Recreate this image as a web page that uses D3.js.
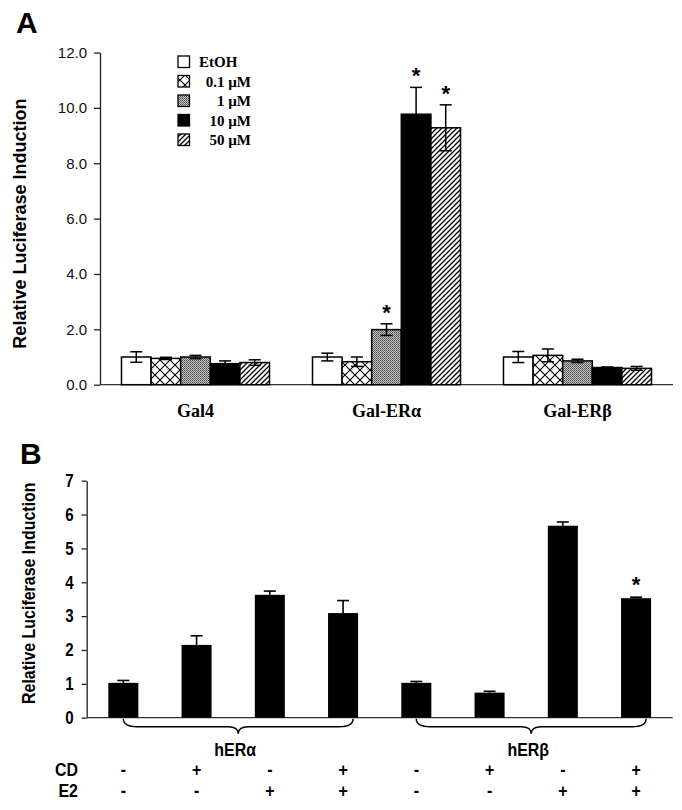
<!DOCTYPE html>
<html>
<head>
<meta charset="utf-8">
<script src="https://cdn.jsdelivr.net/npm/d3@7"></script>
<style>
  html, body { margin: 0; padding: 0; background: #fff; }
  svg { display: block; }
</style>
</head>
<body>
<div id="chart"></div>
<script>
// ---------------- Panel A data ----------------
const groupsA = ["Gal4", "Gal-ERα", "Gal-ERβ"];
const seriesA = ["EtOH", "0.1 µM", "1 µM", "10 µM", "50 µM"];
const valEtOH = [1.00, 1.00, 1.00];
const val01 = [0.95, 0.83, 1.06];
const val1 = [1.00, 1.99, 0.86];
const val10 = [0.76, 9.77, 0.62];
const val50 = [0.80, 9.28, 0.59];
const errEtOH = [0.19, 0.14, 0.20];
const err01 = [0.04, 0.17, 0.23];
const err1 = [0.06, 0.21, 0.06];
const err10 = [0.10, 0.97, 0.02];
const err50 = [0.10, 0.83, 0.07];
const starsA = [[false, false, false], [false, false, false], [false, true, false], [false, true, false], [false, true, false]];
const ticksA = [0, 2, 4, 6, 8, 10, 12];

// ---------------- Panel B data ----------------
const barsB = ["1", "2", "3", "4", "5", "6", "7", "8"];
const valuesB = [1.03, 2.15, 3.63, 3.09, 1.03, 0.74, 5.67, 3.53];
const errorsB = [0.07, 0.27, 0.11, 0.37, 0.04, 0.04, 0.11, 0.03];
const starsB = [false, false, false, false, false, false, false, true];
const cdRow = ["-", "+", "-", "+", "-", "+", "-", "+"];
const e2Row = ["-", "-", "+", "+", "-", "-", "+", "+"];
const receptors = ["hERα", "hERβ"];
const ticksB = [0, 1, 2, 3, 4, 5, 6, 7];

const W = 682, H = 810;
const svg = d3.select("#chart").append("svg").attr("width", W).attr("height", H);
const defs = svg.append("defs");

// patterns
const pCross = defs.append("pattern").attr("id", "pCross").attr("patternUnits", "userSpaceOnUse")
  .attr("width", 10).attr("height", 10);
pCross.append("rect").attr("width", 10).attr("height", 10).attr("fill", "#fff");
pCross.append("path").attr("d", "M0,0L10,10M10,0L0,10").attr("stroke", "#000").attr("stroke-width", 1.1);

const pGray = defs.append("pattern").attr("id", "pGray").attr("patternUnits", "userSpaceOnUse")
  .attr("width", 2).attr("height", 2);
pGray.append("rect").attr("width", 2).attr("height", 2).attr("fill", "#c4c4c4");
pGray.append("rect").attr("width", 1).attr("height", 1).attr("fill", "#4a4a4a");
pGray.append("rect").attr("x", 1).attr("y", 1).attr("width", 1).attr("height", 1).attr("fill", "#6a6a6a");

const pHatch = defs.append("pattern").attr("id", "pHatch").attr("patternUnits", "userSpaceOnUse")
  .attr("width", 5).attr("height", 5);
pHatch.append("rect").attr("width", 5).attr("height", 5).attr("fill", "#fff");
pHatch.append("path").attr("d", "M-1,6L6,-1M-2,2L2,-2M3,7L7,3").attr("stroke", "#000").attr("stroke-width", 1.3);

const fillsA = ["#fff", "url(#pCross)", "url(#pGray)", "#000", "url(#pHatch)"];

const sans = "'Liberation Sans', Arial, sans-serif";
const serif = "'Liberation Serif', 'Times New Roman', serif";
const NARROW = 0.84; // horizontal condensing for panel B text (Arial Narrow look)

// condensed text helper (horizontal scale about the anchor point)
function narrowText(g, x, y, txt, size, anchor) {
  return g.append("text")
    .attr("transform", `translate(${x},${y}) scale(${NARROW},1)`)
    .attr("text-anchor", anchor || "middle")
    .attr("font-family", sans).attr("font-weight", "bold").attr("font-size", size)
    .text(txt);
}

// ================= Panel A =================
const valsA = [valEtOH, val01, val1, val10, val50];
const errsA = [errEtOH, err01, err1, err10, err50];
const xA = d3.scaleBand().domain(groupsA).range([100, 673]).paddingInner(0.225).paddingOuter(0.1125);
const xA1 = d3.scaleBand().domain(seriesA).range([0, xA.bandwidth()]);
const yA = d3.scaleLinear().domain([0, 12]).range([384.7, 52.5]);

svg.append("text").attr("x", 16).attr("y", 33).text("A")
  .attr("font-family", sans).attr("font-weight", "bold").attr("font-size", 30);

const gA = svg.append("g");
const axA = gA.append("g").attr("transform", "translate(100,0)")
  .call(d3.axisLeft(yA).tickValues(ticksA).tickFormat(d3.format(".1f")).tickSize(6).tickSizeOuter(0).tickPadding(7));
axA.select(".domain").attr("stroke", "#222").attr("stroke-width", 1.3);
axA.selectAll(".tick line").attr("stroke", "#222").attr("stroke-width", 1.3);
axA.selectAll(".tick text").attr("font-family", sans).attr("font-size", 15).attr("fill", "#111");
gA.append("line").attr("x1", 100).attr("x2", 673).attr("y1", yA(0)).attr("y2", yA(0))
  .attr("stroke", "#333").attr("stroke-width", 1.3);

gA.append("text").attr("transform", `translate(26,${(yA(0) + yA(12)) / 2 + 5}) rotate(-90)`)
  .attr("text-anchor", "middle").attr("font-family", sans).attr("font-weight", "bold").attr("font-size", 18)
  .text("Relative Luciferase Induction");

seriesA.forEach((s, si) => {
  groupsA.forEach((g, gi) => {
    const v = valsA[si][gi], e = errsA[si][gi];
    const x0 = xA(g) + xA1(s), bw = xA1.bandwidth();
    const cx = x0 + bw / 2;
    gA.append("rect").attr("x", x0).attr("y", yA(v)).attr("width", bw).attr("height", yA(0) - yA(v))
      .attr("fill", fillsA[si]).attr("stroke", "#000").attr("stroke-width", 1.5);
    gA.append("line").attr("x1", cx).attr("x2", cx).attr("y1", yA(v - e)).attr("y2", yA(v + e))
      .attr("stroke", "#000").attr("stroke-width", 1.5);
    [v - e, v + e].forEach(t => {
      gA.append("line").attr("x1", cx - 6).attr("x2", cx + 6).attr("y1", yA(t)).attr("y2", yA(t))
        .attr("stroke", "#000").attr("stroke-width", 1.5);
    });
    if (starsA[si][gi]) {
      gA.append("text").attr("x", cx).attr("y", yA(v + e) - 4).attr("text-anchor", "middle")
        .attr("font-family", sans).attr("font-weight", "bold").attr("font-size", 22).text("*");
    }
  });
});

// x labels
groupsA.forEach(g => {
  gA.append("text").attr("x", xA(g) + xA.bandwidth() / 2).attr("y", 417).attr("text-anchor", "middle")
    .attr("font-family", serif).attr("font-weight", "bold").attr("font-size", 18).text(g);
});

// legend
const legA = gA.append("g");
seriesA.forEach((s, i) => {
  const cy = 62 + i * 19.5;
  legA.append("rect").attr("x", 178).attr("y", cy - 6).attr("width", 11.5).attr("height", 11.5)
    .attr("fill", fillsA[i]).attr("stroke", "#000").attr("stroke-width", 1.3);
  const t = legA.append("text").attr("y", cy + 5).attr("font-family", serif).attr("font-weight", "bold")
    .attr("font-size", 15).text(s);
  if (i === 0) t.attr("x", 199).attr("text-anchor", "start");
  else t.attr("x", 251).attr("text-anchor", "end");
});

// ================= Panel B =================
const xB = d3.scaleBand().domain(barsB).range([86.7, 672.7]).paddingInner(0.59).paddingOuter(0.295);
const yB = d3.scaleLinear().domain([0, 7]).range([717.7, 480.7]);

svg.append("text").attr("x", 20).attr("y", 464).text("B")
  .attr("font-family", sans).attr("font-weight", "bold").attr("font-size", 30);

const gB = svg.append("g");
const axB = gB.append("g").attr("transform", "translate(86.7,0)")
  .call(d3.axisLeft(yB).tickValues(ticksB).tickFormat(d3.format("d")).tickSize(5).tickSizeOuter(0).tickPadding(8));
axB.select(".domain").attr("stroke", "#222").attr("stroke-width", 1.3);
axB.selectAll(".tick line").attr("stroke", "#222").attr("stroke-width", 1.3);
axB.selectAll(".tick text").each(function () {
  const t = d3.select(this);
  const x = +t.attr("x");
  t.attr("x", x / NARROW).attr("transform", `scale(${NARROW},1)`);
}).attr("font-family", sans).attr("font-weight", "bold").attr("font-size", 18).attr("fill", "#000");
gB.append("line").attr("x1", 86.7).attr("x2", 672.7).attr("y1", yB(0)).attr("y2", yB(0))
  .attr("stroke", "#333").attr("stroke-width", 1.3);

gB.append("text").attr("transform", `translate(35,${(yB(0) + yB(7)) / 2 - 6}) rotate(-90) scale(${NARROW},1)`)
  .attr("text-anchor", "middle").attr("font-family", sans).attr("font-weight", "bold").attr("font-size", 19)
  .text("Relative Luciferase Induction");

barsB.forEach((b, i) => {
  const v = valuesB[i], e = errorsB[i];
  const x0 = xB(b), bw = xB.bandwidth(), cx = x0 + bw / 2;
  gB.append("rect").attr("x", x0).attr("y", yB(v)).attr("width", bw).attr("height", yB(0) - yB(v)).attr("fill", "#000");
  gB.append("line").attr("x1", cx).attr("x2", cx).attr("y1", yB(v)).attr("y2", yB(v + e))
    .attr("stroke", "#000").attr("stroke-width", 1.6);
  gB.append("line").attr("x1", cx - 6).attr("x2", cx + 6).attr("y1", yB(v + e)).attr("y2", yB(v + e))
    .attr("stroke", "#000").attr("stroke-width", 1.6);
  if (starsB[i]) {
    gB.append("text").attr("x", cx).attr("y", yB(v + e) - 5).attr("text-anchor", "middle")
      .attr("font-family", sans).attr("font-weight", "bold").attr("font-size", 22).text("*");
  }
  narrowText(gB, cx, 776, cdRow[i], 19);
  narrowText(gB, cx, 797, e2Row[i], 19);
});

narrowText(gB, 78, 776, "CD", 19, "end");
narrowText(gB, 78, 797, "E2", 19, "end");

// braces
receptors.forEach((r, ri) => {
  const first = barsB[ri * 4], last = barsB[ri * 4 + 3];
  const x0 = xB(first) + xB.bandwidth() / 2;
  const x1 = xB(last) + xB.bandwidth() - 5;
  const mid = (x0 + x1) / 2;
  const yTop = yB(0) + 1, yLine = yB(0) + 9, yTip = yB(0) + 16;
  const d = `M${x0},${yTop} Q${x0},${yLine} ${x0 + 14},${yLine} L${mid - 10},${yLine} Q${mid},${yLine} ${mid},${yTip} Q${mid},${yLine} ${mid + 10},${yLine} L${x1 - 14},${yLine} Q${x1},${yLine} ${x1},${yTop}`;
  gB.append("path").attr("d", d).attr("fill", "none").attr("stroke", "#000").attr("stroke-width", 1.5);
  narrowText(gB, mid - 3, 756, r, 19);
});
</script>
</body>
</html>
